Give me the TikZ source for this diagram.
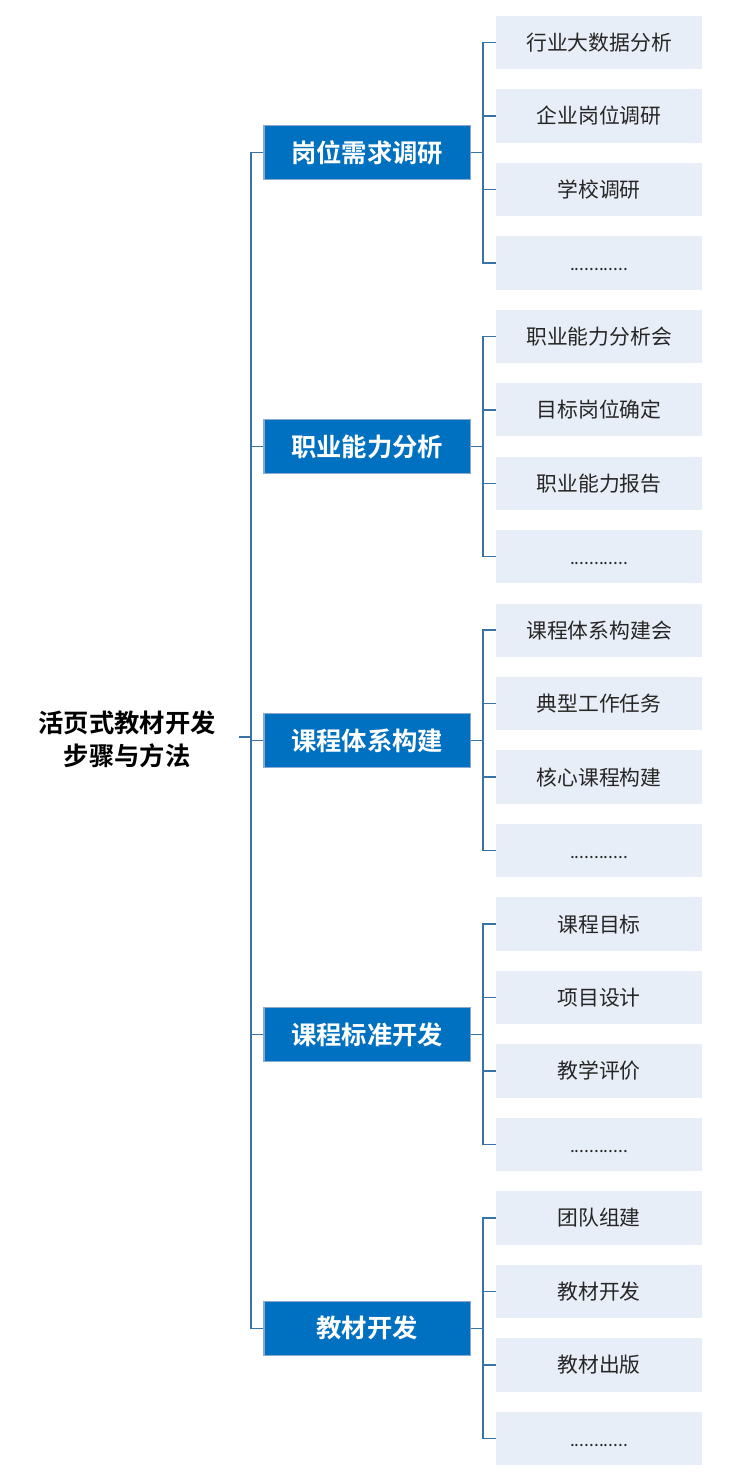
\documentclass[tikz,border=0pt]{standalone}
\usepackage{fontspec}
\setmainfont{Noto Sans CJK SC}[BoldFont={Noto Sans CJK SC Bold}]
\definecolor{mainblue}{HTML}{0070C0}
\definecolor{mainborder}{HTML}{8EA9CF}
\definecolor{childfill}{HTML}{E8EEF7}
\definecolor{connblue}{HTML}{3872A6}
\newcommand{\mydots}{\raisebox{-6pt}[0pt][0pt]{\fontsize{13}{15}\selectfont ............}}
\tikzset{
  mainbox/.style={fill=mainblue, draw=mainborder, line width=0.8pt, minimum width=155pt, minimum height=40.5pt, inner sep=0pt, text=white, font=\fontsize{19}{22}\selectfont\bfseries},
  childbox/.style={fill=childfill, draw=none, minimum width=154.5pt, minimum height=40pt, inner sep=0pt, text=black!85, font=\fontsize{15.6}{19}\selectfont},
  rootbox/.style={align=center, inner sep=0pt, text=black, font=\fontsize{19}{25}\selectfont\bfseries},
  conn/.style={draw=connblue, line width=1.1pt},
}
\begin{document}
\begin{tikzpicture}[x=0.75pt,y=-0.75pt]
\useasboundingbox (0,0) rectangle (738,1484);
\node[rootbox] (root) at (127,739) {活页式教材开发\\步骤与方法};
\def\mainlist{岗位需求调研/1,职业能力分析/2,课程体系构建/3,课程标准开发/4,教材开发/5}
\foreach \t/\g in \mainlist {
  \pgfmathsetmacro\ym{152.7+293.9*(\g-1)}
  \node[mainbox] (m\g) at (367.3,\ym) {\t};
}
\def\childlist{%
行业大数据分析/1/1,企业岗位调研/1/2,学校调研/1/3,\mydots/1/4,%
职业能力分析会/2/1,目标岗位确定/2/2,职业能力报告/2/3,\mydots/2/4,%
课程体系构建会/3/1,典型工作任务/3/2,核心课程构建/3/3,\mydots/3/4,%
课程目标/4/1,项目设计/4/2,教学评价/4/3,\mydots/4/4,%
团队组建/5/1,教材开发/5/2,教材出版/5/3,\mydots/5/4}
\foreach \t/\g/\k in \childlist {
  \pgfmathsetmacro\yc{42.45+73.47*(4*(\g-1)+\k-1)}
  \node[childbox] (c\g-\k) at (599,\yc) {\t};
}
% trunk
\coordinate (rootend) at (239,737);
\coordinate (trunkroot) at (251.7,737);
\draw[conn] (rootend) -- (trunkroot);
\draw[conn] (m1.west) -- ++(-12.3,0) |- (m5.west);
\foreach \g in {2,3,4} { \draw[conn] (m\g.west) -- ++(-12.3,0); }
% branches
\foreach \g in {1,...,5} {
  \draw[conn] (m\g.east) -- ++(12.6,0);
  \draw[conn] (c\g-1.west) -- ++(-12.7,0) |- (c\g-4.west);
  \draw[conn] (c\g-2.west) -- ++(-12.7,0);
  \draw[conn] (c\g-3.west) -- ++(-12.7,0);
}
\end{tikzpicture}
\end{document}
